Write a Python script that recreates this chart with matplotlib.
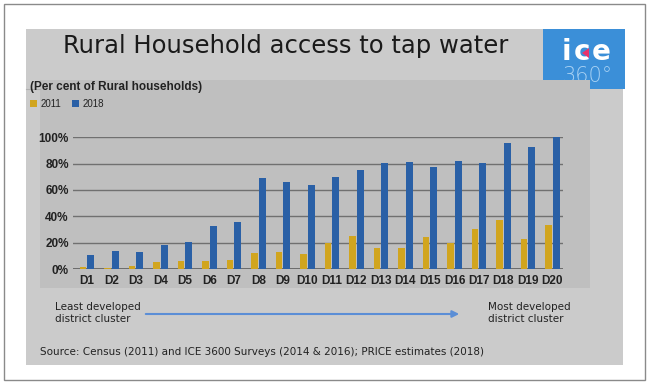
import matplotlib
matplotlib.use("Agg")
import matplotlib.pyplot as plt
from matplotlib.patches import Rectangle, Polygon
import numpy as np

# data
clusters = [f"D{i}" for i in range(1, 21)]
tap_2011 = [1.5, 1, 2.5, 5, 6, 5.8, 6.8, 12.4, 12.9, 11.6,
            19.5, 25, 16, 16, 24.6, 20, 30.4, 37.2, 23, 33.7]
tap_2018 = [10.6, 13.4, 12.9, 18, 20.5, 32.4, 36, 68.9, 65.8, 63.5,
            69.6, 75.2, 80.8, 81.3, 77.2, 81.8, 80.3, 95.4, 92.9, 100]
y_ticks = [0, 20, 40, 60, 80, 100]
y_labels = ["0%", "20%", "40%", "60%", "80%", "100%"]

GOLD = "#d1a51f"
BLUE = "#2a60a6"
NARROW = ["Liberation Sans Narrow", "Liberation Sans"]
W, H = 650, 384

fig = plt.figure(figsize=(W / 100, H / 100), dpi=100)
fig.patch.set_facecolor("white")

# background layer in pixel coords
bg = fig.add_axes([0, 0, 1, 1])
bg.set_xlim(0, W)
bg.set_ylim(H, 0)
bg.axis("off")

bg.add_patch(Rectangle((4, 4), 641, 376, fill=False, ec="#8a8a8a", lw=1))
bg.add_patch(Rectangle((26, 29), 597, 336, fc="#cbcbcb", ec="none"))

# logo box
bg.add_patch(Rectangle((543, 29), 82, 60, fc="#3b8fd8", ec="none", zorder=1))
bg.text(566, 52, "i", color="white", fontsize=20, fontweight="bold", ha="center", va="center", zorder=2)
bg.text(582, 52, "c", color="white", fontsize=20, fontweight="bold", ha="center", va="center", zorder=2)
bg.add_patch(Polygon([[582, 53], [589, 48], [589, 58]], closed=True, fc="#e8336b", ec="none", zorder=3))
bg.text(601, 52, "e", color="white", fontsize=20, fontweight="bold", ha="center", va="center", zorder=2)
bg.text(587, 76, "360°", color="#a9d2f4", fontsize=15, ha="center", va="center", zorder=2,
        fontweight="light")

# chart image region
bg.add_patch(Rectangle((40, 80), 550, 208, fc="#bfbfbf", ec="none", zorder=4))
bg.plot([26, 40], [89, 89], color="#b0b0b0", lw=0.8, zorder=4)

bg.text(286, 46, "Rural Household access to tap water", fontsize=17.5, color="#1a1a1a",
        ha="center", va="center", zorder=5)
bg.text(30, 87, "(Per cent of Rural households)", fontsize=8.5, fontweight="bold",
        family=NARROW, color="#222222", ha="left", va="center", zorder=5)

# legend
bg.add_patch(Rectangle((30, 100), 7, 7, fc=GOLD, ec="none", zorder=5))
bg.text(41, 104, "2011", fontsize=7, family=NARROW, color="#222222", va="center", zorder=5)
bg.add_patch(Rectangle((72, 100), 7, 7, fc=BLUE, ec="none", zorder=5))
bg.text(83, 104, "2018", fontsize=7, family=NARROW, color="#222222", va="center", zorder=5)

# bottom annotations
bg.text(55, 313, "Least developed\ndistrict cluster", fontsize=7.5, color="#222222",
        ha="left", va="center", linespacing=1.3)
bg.text(488, 313, "Most developed\ndistrict cluster", fontsize=7.5, color="#222222",
        ha="left", va="center", linespacing=1.3)
bg.annotate("", xy=(462, 314), xytext=(143, 314),
            arrowprops=dict(arrowstyle="-|>", color="#5b8ed6", lw=1.5, mutation_scale=10))
bg.text(40, 352, "Source: Census (2011) and ICE 3600 Surveys (2014 & 2016); PRICE estimates (2018)",
        fontsize=7.5, color="#222222", ha="left", va="center")

# bar chart
left, right = 73, 563
top, base = 137.3, 269
ax = fig.add_axes([left / W, 1 - base / H, (right - left) / W, (base - top) / H])
ax.set_facecolor("none")
ax.set_zorder(6)

x = np.arange(len(clusters))
bw = 0.28
ax.bar(x - 0.16, tap_2011, width=bw, color=GOLD, zorder=3)
ax.bar(x + 0.16, tap_2018, width=bw, color=BLUE, zorder=3)

ax.set_xlim(-0.57, 19.43)
ax.set_ylim(0, 100)
ax.set_yticks(y_ticks)
ax.set_yticklabels(y_labels, fontsize=8.5, fontweight="bold", family=NARROW, color="#222222")
ax.set_xticks(x)
ax.set_xticklabels(clusters, fontsize=8.5, fontweight="bold", family=NARROW, color="#222222")
ax.tick_params(length=0, pad=3)
ax.tick_params(axis="x", pad=4)
ax.set_axisbelow(True)
ax.grid(axis="y", color="#707070", lw=1)
for s in ax.spines.values():
    s.set_visible(False)
ax.axhline(0, color="#606060", lw=1.2, zorder=2)

fig.savefig("out.png", dpi=100, facecolor=fig.get_facecolor())
